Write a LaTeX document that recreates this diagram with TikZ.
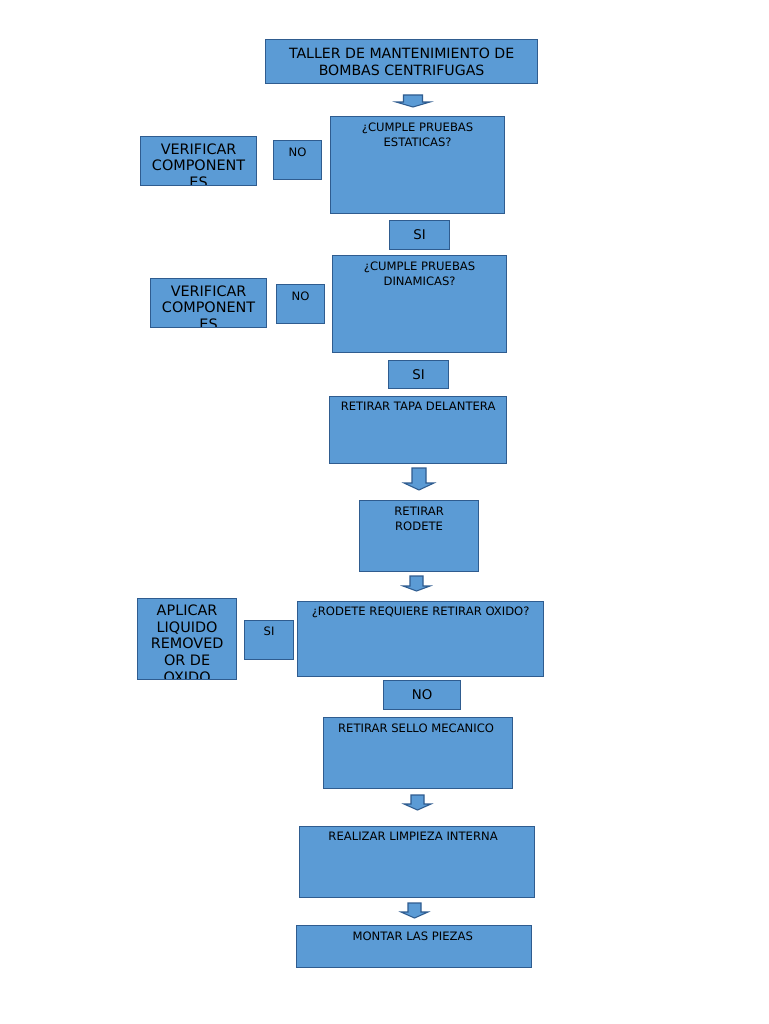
\documentclass[tikz,border=0pt]{standalone}
\usepackage{fontspec}
\setmainfont{DejaVu Sans}
\usetikzlibrary{positioning}

\definecolor{boxfill}{HTML}{5B9BD5}
\definecolor{boxline}{HTML}{2F5C8F}
\newcommand{\pxu}{0.75pt}

\begin{document}
\begin{tikzpicture}[
        x=\pxu, y=-\pxu,
        box/.style={rectangle, draw=boxline, fill=boxfill, line width=0.9pt, anchor=north west, inner sep=0pt, align=center},
        txt/.style={inner sep=0pt, align=center, font=\fontsize{8.7}{11.2}\selectfont},
        bigtxt/.style={inner sep=0pt, align=center, font=\fontsize{10.8}{12.6}\selectfont},
        clipped/.style={path picture={\node[bigtxt, anchor=north] at ([yshift=-3pt]path picture bounding box.north) {#1};}},
        blockarrow/.style={draw=boxline, fill=boxfill, line width=0.8pt, line join=miter}
    ]
        \useasboundingbox[fill=white] (0,0) rectangle (768,1024);

        % main column
        \node[box, minimum width=272*\pxu, minimum height=44*\pxu, font=\fontsize{10.6}{12.8}\selectfont] (title) at (265,39) {TALLER DE MANTENIMIENTO DE\\BOMBAS CENTRIFUGAS};
        \node[box, minimum width=174*\pxu, minimum height=97*\pxu] (estaticas) at (330,116) {};
        \node[box, minimum width=60*\pxu, minimum height=29*\pxu, font=\fontsize{10}{12}\selectfont] (si1) at (389,220) {SI};
        \node[box, minimum width=174*\pxu, minimum height=97*\pxu] (dinamicas) at (332,255) {};
        \node[box, minimum width=60*\pxu, minimum height=28*\pxu, font=\fontsize{10}{12}\selectfont] (si2) at (388,360) {SI};
        \node[box, minimum width=177*\pxu, minimum height=67*\pxu] (tapa) at (329,396) {};
        \node[box, minimum width=119*\pxu, minimum height=71*\pxu] (rodete) at (359,500) {};
        \node[box, minimum width=246*\pxu, minimum height=75*\pxu] (oxido) at (297,601) {};
        \node[box, minimum width=77*\pxu, minimum height=29*\pxu, font=\fontsize{10}{12}\selectfont] (no3) at (383,680) {NO};
        \node[box, minimum width=189*\pxu, minimum height=71*\pxu] (sello) at (323,717) {};
        \node[box, minimum width=235*\pxu, minimum height=71*\pxu] (limpieza) at (299,826) {};
        \node[box, minimum width=235*\pxu, minimum height=42*\pxu] (montar) at (296,925) {};

        % side branches
        \node[box, minimum width=48*\pxu, minimum height=39*\pxu] (no1) at (273,140) {};
        \node[box, minimum width=116*\pxu, minimum height=49*\pxu, clipped={VERIFICAR\\COMPONENT\\ES}] (verificar1) at (140,136) {};
        \node[box, minimum width=48*\pxu, minimum height=39*\pxu] (no2) at (276,284) {};
        \node[box, minimum width=116*\pxu, minimum height=49*\pxu, clipped={VERIFICAR\\COMPONENT\\ES}] (verificar2) at (150,278) {};
        \node[box, minimum width=49*\pxu, minimum height=39*\pxu] (si3) at (244,620) {};
        \node[box, minimum width=99*\pxu, minimum height=81*\pxu, clipped={APLICAR\\LIQUIDO\\REMOVED\\OR DE\\OXIDO}] (aplicar) at (137,598) {};

        % texts at the top of the boxes
        \node[txt, below=5pt of estaticas.north] {¿CUMPLE PRUEBAS\\ESTATICAS?};
        \node[txt, below=5pt of dinamicas.north] {¿CUMPLE PRUEBAS\\DINAMICAS?};
        \node[txt, below=4.5pt of tapa.north] {RETIRAR TAPA DELANTERA};
        \node[txt, below=5pt of rodete.north] {RETIRAR\\RODETE};
        \node[txt, below=4.5pt of oxido.north] {¿RODETE REQUIERE RETIRAR OXIDO?};
        \node[txt, below=5pt of sello.north, xshift=-1.5pt] {RETIRAR SELLO MECANICO};
        \node[txt, below=4.5pt of limpieza.north, xshift=-3pt] {REALIZAR LIMPIEZA INTERNA};
        \node[txt, below=5pt of montar.north, xshift=-1pt] {MONTAR LAS PIEZAS};
        \node[txt, below=5.5pt of no1.north] {NO};
        \node[txt, below=5.5pt of no2.north] {NO};
        \node[txt, below=5pt of si3.north] {SI};

        % block arrows: centre x / top y / shaft half width / head half width / shaft length / total length
        \foreach \cx/\ty/\sw/\hw/\sl/\tl in {413/95/9.5/17/7/12, 419/468/7/15/15/22, 416.5/576/6.5/13.5/10/15, 417.5/795/6.5/13.5/9/15, 414.5/903/6.5/13.5/9/15}
            \draw[blockarrow] (\cx-\sw,\ty) -- (\cx+\sw,\ty) -- (\cx+\sw,\ty+\sl) -- (\cx+\hw,\ty+\sl)
                -- (\cx,\ty+\tl) -- (\cx-\hw,\ty+\sl) -- (\cx-\sw,\ty+\sl) -- cycle;
    \end{tikzpicture}
\end{document}
